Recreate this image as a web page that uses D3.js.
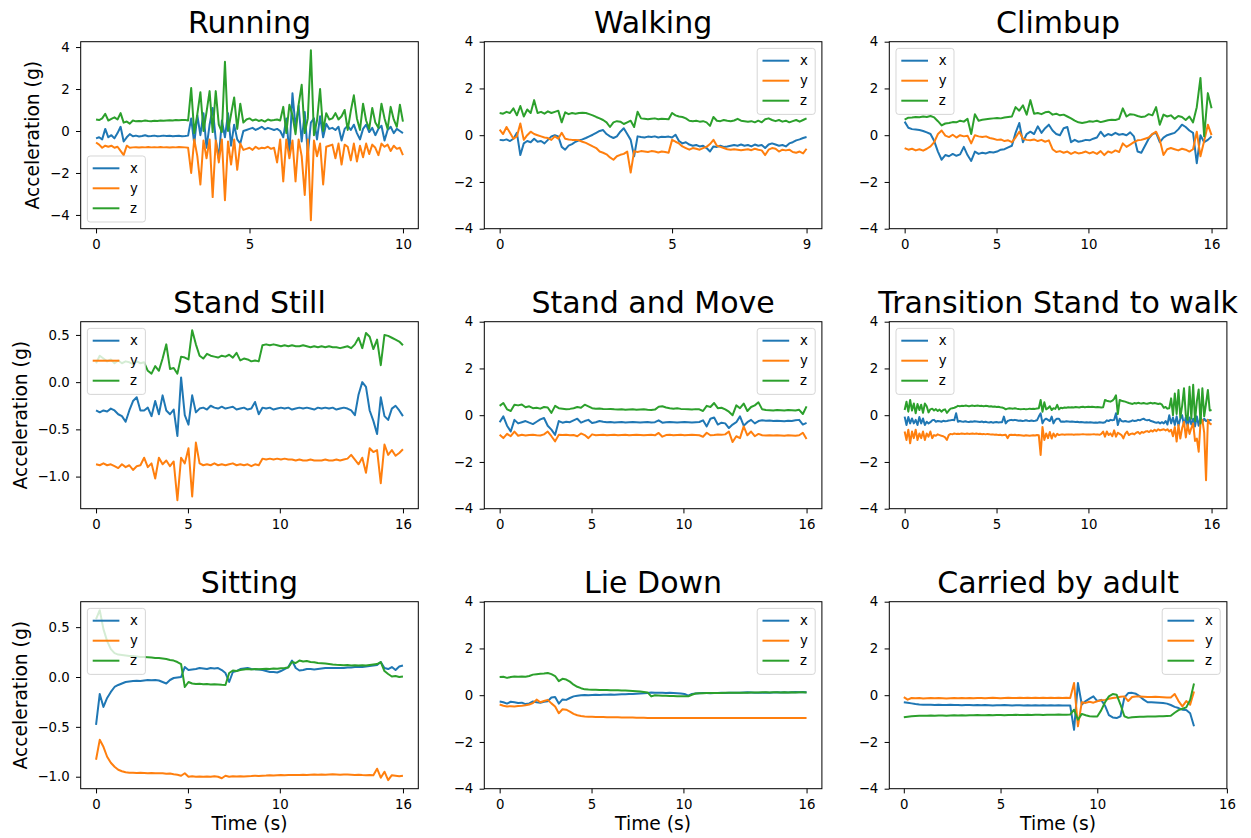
<!DOCTYPE html>
<html>
<head>
<meta charset="utf-8">
<script src="https://cdn.jsdelivr.net/npm/d3@7"></script>
<style>
  body { margin: 0; background: #fff; }
  svg { display: block; }
  text { font-family: "DejaVu Sans", sans-serif; }
</style>
</head>
<body>
<svg id="chart" width="1251" height="838"></svg>
<script>
// Tri-axial accelerometer recordings (g) for nine activities, uniformly sampled.

// ---- Running (10 s) ----
const runningX = [-0.35,-0.30,-0.40,0.10,-0.30,-0.20,-0.35,-0.10,0.20,-0.50,
 -0.30,-0.15,-0.25,-0.22,-0.26,-0.24,-0.20,-0.25,-0.24,-0.22,
 -0.25,-0.24,-0.22,-0.24,-0.23,-0.25,-0.24,-0.23,-0.25,-0.24,
 -0.22,0.60,-0.60,0.75,-0.20,0.85,-0.80,0.30,1.10,-0.40,
 -1.30,0.50,-0.30,0.85,-0.70,0.30,-0.40,-0.60,0.00,0.05,
 0.10,0.15,0.05,0.12,0.20,0.08,0.15,0.10,0.05,0.10,
 0.00,-0.30,0.60,-1.10,1.80,0.20,1.20,-0.50,0.90,-1.10,
 0.40,0.60,-0.40,0.70,-0.30,0.35,0.10,0.15,0.05,0.20,
 -0.45,0.10,0.25,0.05,0.30,-0.10,-0.40,0.10,0.30,-0.05,
 0.15,-0.20,0.10,0.25,-0.45,0.05,0.20,-0.10,0.10,0.00,
 -0.10];
const runningY = [-0.55,-0.65,-0.80,-0.70,-0.75,-0.70,-0.80,-0.75,-0.95,-1.15,
 -0.70,-0.80,-0.78,-0.77,-0.79,-0.77,-0.78,-0.76,-0.78,-0.77,
 -0.78,-0.76,-0.78,-0.77,-0.79,-0.77,-0.78,-0.76,-0.77,-0.78,
 -0.80,-2.00,-0.40,-1.20,-2.55,-0.45,-1.30,-0.40,-3.15,-0.45,
 -1.50,-0.40,-3.30,-0.50,-1.60,-0.40,-1.85,-0.60,-0.90,-0.85,
 -0.80,-0.90,-0.75,-0.85,-0.80,-0.82,-0.75,-0.85,-0.80,-1.50,
 -0.40,-2.40,-0.40,-1.30,-0.45,-2.40,-0.40,-1.20,-3.05,-0.40,
 -4.25,-0.45,-1.20,-0.60,-2.55,-0.75,-0.70,-0.65,-1.30,-0.60,
 -1.60,-0.65,-0.75,-1.40,-0.60,-1.45,-0.70,-1.25,-0.60,-1.10,
 -0.65,-0.80,-1.15,-0.60,-0.75,-0.65,-0.95,-0.70,-0.85,-0.80,
 -1.15];
const runningZ = [0.55,0.52,0.60,0.82,0.50,0.58,0.65,0.55,0.85,0.40,
 0.45,0.35,0.50,0.46,0.48,0.47,0.50,0.48,0.47,0.49,
 0.48,0.50,0.49,0.50,0.51,0.50,0.52,0.51,0.52,0.53,
 0.50,2.05,-0.10,0.80,1.85,0.00,0.90,1.90,-0.05,1.90,
 0.30,-0.05,3.30,0.00,0.80,1.60,0.10,1.30,0.40,0.55,
 0.60,0.50,0.55,0.48,0.52,0.45,0.55,0.50,0.52,0.55,
 0.50,1.15,-0.10,1.25,0.75,-0.15,1.25,2.20,-0.10,0.60,
 3.85,-0.20,0.50,2.00,0.00,0.85,0.55,0.60,0.85,0.55,
 0.70,1.00,0.05,0.95,1.70,0.60,0.05,1.30,0.50,0.10,
 1.10,0.40,0.15,1.30,0.60,0.10,1.15,0.55,0.20,1.25,
 0.45];

// ---- Walking (8.9 s) ----
const walkingX = [-0.20,-0.22,-0.18,-0.25,-0.15,0.10,-0.85,-0.35,-0.25,-0.30,
 -0.15,-0.28,-0.25,-0.35,-0.20,-0.05,0.00,-0.05,-0.50,-0.62,
 -0.45,-0.38,-0.28,-0.22,-0.18,-0.12,-0.05,0.02,0.10,0.18,
 0.22,0.05,-0.05,-0.12,-0.05,0.15,0.30,0.05,-0.20,-0.90,
 -0.05,-0.08,-0.10,-0.06,-0.08,-0.05,-0.10,-0.07,-0.08,-0.06,
 -0.10,0.02,-0.25,-0.35,-0.30,-0.40,-0.45,-0.42,-0.48,-0.45,
 -0.55,-0.70,-0.48,-0.50,-0.45,-0.50,-0.48,-0.45,-0.42,-0.45,
 -0.40,-0.45,-0.42,-0.48,-0.40,-0.45,-0.42,-0.55,-0.40,-0.35,
 -0.40,-0.45,-0.42,-0.48,-0.35,-0.30,-0.22,-0.18,-0.12,-0.08];
const walkingY = [0.24,0.05,0.35,0.10,-0.15,-0.05,0.50,-0.20,0.00,0.15,
 0.05,0.00,-0.05,-0.10,-0.12,-0.20,-0.05,-0.15,0.10,-0.15,
 -0.18,-0.20,-0.20,-0.22,-0.28,-0.33,-0.40,-0.48,-0.55,-0.70,
 -0.75,-0.82,-0.95,-1.05,-0.90,-0.84,-0.80,-0.70,-1.60,-0.68,
 -0.72,-0.68,-0.70,-0.72,-0.68,-0.70,-0.74,-0.70,-0.72,-0.75,
 -0.20,-0.28,-0.35,-0.48,-0.55,-0.62,-0.55,-0.58,-0.62,-0.55,
 -0.50,-0.38,-0.20,-0.45,-0.50,-0.55,-0.60,-0.62,-0.60,-0.62,
 -0.64,-0.62,-0.60,-0.64,-0.58,-0.62,-0.65,-0.85,-0.62,-0.55,
 -0.58,-0.70,-0.62,-0.65,-0.62,-0.72,-0.75,-0.70,-0.78,-0.58];
const walkingZ = [0.95,0.92,1.00,0.95,1.15,0.85,1.25,0.80,1.10,0.95,
 1.50,0.95,1.00,0.92,1.02,0.95,1.00,1.05,0.55,0.98,
 0.90,0.95,0.92,0.95,0.96,0.95,0.90,0.85,0.78,0.72,
 0.65,0.55,0.35,0.55,0.60,0.58,0.48,0.55,0.62,0.35,
 1.00,0.72,0.70,0.68,0.70,0.72,0.68,0.70,0.69,0.68,
 0.95,0.85,0.80,0.78,0.72,0.62,0.60,0.62,0.58,0.60,
 0.55,0.40,0.78,0.62,0.60,0.65,0.62,0.60,0.63,0.70,
 0.62,0.60,0.58,0.60,0.55,0.62,0.55,0.68,0.72,0.65,
 0.60,0.65,0.58,0.62,0.55,0.60,0.65,0.58,0.65,0.72];

// ---- Climbup (16.7 s) ----
const climbX = [0.58,0.32,0.26,0.24,0.22,0.18,0.12,0.05,-0.25,-0.70,
 -1.05,-0.85,-0.90,-0.80,-0.88,-0.82,-0.50,-0.85,-1.10,-0.70,
 -0.80,-0.75,-0.78,-0.72,-0.74,-0.70,-0.62,-0.60,-0.52,-0.45,
 0.10,0.52,-0.30,0.05,0.15,0.05,0.38,0.10,0.30,0.45,
 0.20,0.05,0.00,0.30,0.35,-0.30,-0.20,-0.28,-0.25,-0.20,
 -0.22,-0.15,-0.10,0.15,-0.05,0.05,0.00,0.10,0.02,0.05,
 0.00,0.12,-0.05,-0.70,-0.75,-0.45,-0.15,0.05,0.10,-0.30,
 -0.10,0.00,0.05,0.10,0.25,0.45,0.35,0.20,0.10,-1.20,
 0.00,-0.30,-0.20,-0.05];
const climbY = [-0.55,-0.62,-0.58,-0.65,-0.60,-0.66,-0.58,-0.48,-0.30,0.05,
 0.20,-0.02,-0.08,0.02,-0.10,0.00,-0.05,-0.02,-0.35,0.00,
 -0.05,-0.08,-0.05,-0.12,-0.15,-0.20,-0.18,-0.25,-0.22,-0.30,
 -0.10,0.15,-0.15,-0.20,-0.22,-0.18,-0.25,-0.20,-0.28,-0.22,
 -0.60,-0.72,-0.68,-0.75,-0.70,-0.80,-0.72,-0.78,-0.75,-0.70,
 -0.78,-0.72,-0.80,-0.68,-0.85,-0.70,-0.75,-0.65,-0.72,-0.35,
 -0.50,-0.40,-0.30,-0.22,-0.20,-0.15,-0.10,0.05,0.15,-0.20,
 -0.85,-0.60,-0.55,-0.60,-0.65,-0.58,-0.62,-0.70,-0.60,0.15,
 -0.90,-0.25,0.45,0.00];
const climbZ = [0.67,0.75,0.76,0.78,0.77,0.80,0.78,0.82,0.76,0.60,
 0.42,0.50,0.52,0.56,0.55,0.62,0.58,0.70,0.05,0.90,
 0.62,0.66,0.68,0.70,0.72,0.74,0.72,0.76,0.78,0.80,
 1.20,1.05,1.28,0.88,1.50,0.92,0.95,0.90,0.98,1.00,
 0.88,0.92,0.85,0.88,0.80,0.72,0.62,0.55,0.52,0.55,
 0.60,0.58,0.62,0.56,0.60,0.64,0.66,0.65,0.70,1.15,
 0.80,0.90,0.88,0.82,0.78,0.80,0.90,0.85,1.20,0.45,
 0.88,0.80,0.85,0.70,0.82,0.78,0.65,0.80,0.55,1.20,
 2.45,-0.05,1.80,1.15];

// ---- Stand Still (16.7 s) ----
const standX = [-0.30,-0.32,-0.30,-0.31,-0.28,-0.30,-0.34,-0.36,-0.42,-0.30,
 -0.20,-0.16,-0.30,-0.30,-0.27,-0.36,-0.20,-0.34,-0.14,-0.30,
 -0.34,-0.29,-0.57,0.05,-0.35,-0.45,-0.14,-0.32,-0.28,-0.27,
 -0.29,-0.25,-0.27,-0.28,-0.26,-0.28,-0.27,-0.26,-0.29,-0.28,
 -0.27,-0.29,-0.28,-0.21,-0.34,-0.27,-0.28,-0.27,-0.29,-0.28,
 -0.27,-0.28,-0.27,-0.29,-0.28,-0.27,-0.28,-0.27,-0.28,-0.29,
 -0.27,-0.28,-0.27,-0.28,-0.27,-0.29,-0.28,-0.27,-0.28,-0.30,
 -0.35,-0.13,0.00,-0.05,-0.30,-0.41,-0.55,-0.16,-0.36,-0.40,
 -0.28,-0.25,-0.30,-0.36];
const standY = [-0.87,-0.88,-0.86,-0.88,-0.87,-0.89,-0.91,-0.87,-0.90,-0.88,
 -0.93,-0.89,-0.88,-0.80,-0.90,-0.86,-1.02,-0.80,-0.87,-0.83,
 -0.89,-0.84,-1.25,-0.80,-0.86,-0.70,-1.21,-0.64,-0.86,-0.88,
 -0.87,-0.88,-0.86,-0.88,-0.87,-0.88,-0.87,-0.86,-0.88,-0.87,
 -0.88,-0.87,-0.89,-0.87,-0.88,-0.81,-0.82,-0.81,-0.82,-0.81,
 -0.82,-0.81,-0.82,-0.82,-0.83,-0.82,-0.83,-0.83,-0.82,-0.83,
 -0.83,-0.83,-0.82,-0.83,-0.83,-0.82,-0.83,-0.82,-0.81,-0.77,
 -0.82,-0.87,-0.80,-0.96,-0.70,-0.74,-0.72,-1.07,-0.66,-0.77,
 -0.72,-0.78,-0.75,-0.71];
const standZ = [0.20,0.28,0.25,0.22,0.24,0.20,0.23,0.20,0.22,0.21,
 0.19,0.22,0.20,0.21,0.12,0.09,0.17,0.12,0.25,0.40,
 0.14,0.15,0.09,0.27,0.26,0.24,0.55,0.40,0.28,0.25,
 0.30,0.28,0.27,0.26,0.28,0.27,0.29,0.26,0.31,0.23,
 0.25,0.24,0.22,0.23,0.22,0.39,0.40,0.39,0.40,0.39,
 0.38,0.39,0.38,0.39,0.38,0.38,0.39,0.38,0.37,0.38,
 0.37,0.38,0.37,0.38,0.37,0.37,0.36,0.37,0.38,0.36,
 0.40,0.47,0.36,0.52,0.48,0.35,0.45,0.18,0.50,0.49,
 0.47,0.45,0.43,0.39];

// ---- Stand and Move (16.7 s) ----
const moveX = [-0.30,-0.05,-0.45,-0.70,-0.20,-0.35,-0.30,-0.25,-0.32,-0.38,
 -0.28,-0.18,-0.12,-0.45,-0.62,-0.84,-0.25,-0.32,-0.28,-0.30,
 -0.22,-0.15,-0.32,-0.25,-0.20,-0.33,-0.30,-0.25,-0.28,-0.30,
 -0.29,-0.31,-0.30,-0.29,-0.31,-0.30,-0.29,-0.30,-0.31,-0.30,
 -0.29,-0.31,-0.30,-0.22,-0.32,-0.30,-0.29,-0.30,-0.31,-0.30,
 -0.29,-0.30,-0.31,-0.30,-0.29,-0.22,-0.48,-0.15,-0.10,-0.40,
 -0.32,-0.35,-0.55,-0.40,-0.30,-0.05,-0.45,-0.30,-0.20,-0.35,
 -0.25,-0.22,-0.24,-0.23,-0.25,-0.24,-0.25,-0.26,-0.24,-0.25,
 -0.22,-0.20,-0.40,-0.33];
const moveY = [-0.84,-0.98,-0.80,-0.90,-0.70,-0.88,-0.84,-0.87,-0.85,-0.84,
 -0.86,-0.87,-0.82,-0.70,-0.90,-1.12,-0.84,-0.85,-0.84,-0.86,
 -0.85,-0.90,-0.78,-0.85,-0.98,-0.82,-0.86,-0.85,-0.84,-0.86,
 -0.85,-0.84,-0.86,-0.85,-0.84,-0.86,-0.85,-0.84,-0.85,-0.86,
 -0.85,-0.84,-0.86,-0.76,-0.92,-0.85,-0.84,-0.86,-0.85,-0.84,
 -0.86,-0.85,-0.84,-0.85,-0.86,-0.92,-0.75,-0.86,-0.85,-0.83,
 -0.84,-0.82,-0.70,-1.15,-0.90,-0.98,-0.48,-0.86,-0.70,-0.90,
 -0.80,-0.86,-0.87,-0.86,-0.87,-0.86,-0.87,-0.88,-0.86,-0.87,
 -0.88,-0.86,-0.75,-1.02];
const moveZ = [0.40,0.52,0.25,0.18,0.45,0.42,0.46,0.34,0.38,0.30,
 0.32,0.28,0.35,0.33,0.10,0.40,0.30,0.28,0.25,0.27,
 0.30,0.35,0.32,0.45,0.38,0.30,0.28,0.29,0.27,0.26,
 0.27,0.25,0.24,0.25,0.23,0.24,0.25,0.23,0.24,0.25,
 0.23,0.22,0.24,0.36,0.38,0.33,0.30,0.28,0.30,0.27,
 0.26,0.25,0.24,0.26,0.25,0.18,0.40,0.35,0.52,0.30,
 0.32,0.25,0.15,0.00,0.42,0.30,0.50,0.18,0.35,0.42,
 0.55,0.25,0.22,0.21,0.20,0.22,0.21,0.20,0.22,0.21,
 0.20,0.23,0.05,0.38];

// ---- Transition Stand to walk (16.7 s, finer sampling) ----
const transX = [-0.06,-0.42,-0.08,-0.35,-0.14,-0.35,-0.20,-0.42,-0.08,-0.35,
 -0.14,-0.42,-0.28,-0.35,-0.30,-0.22,-0.20,-0.28,-0.25,-0.26,
 -0.28,-0.24,-0.26,-0.25,-0.23,-0.22,-0.20,-0.22,0.08,-0.28,
 -0.25,-0.27,-0.28,-0.26,-0.28,-0.29,-0.27,-0.28,-0.26,-0.27,
 -0.28,-0.29,-0.27,-0.30,-0.28,-0.30,-0.31,-0.29,-0.32,-0.30,
 -0.29,-0.31,-0.30,-0.30,-0.06,-0.35,-0.25,-0.22,-0.20,-0.22,
 -0.20,-0.22,-0.24,-0.23,-0.25,-0.24,-0.22,-0.24,-0.25,-0.23,
 -0.25,-0.24,-0.22,-0.06,0.08,-0.35,-0.20,-0.15,-0.20,-0.25,
 -0.06,-0.35,-0.20,-0.15,-0.15,-0.28,-0.27,-0.28,-0.26,-0.27,
 -0.28,-0.27,-0.28,-0.29,-0.28,-0.30,-0.29,-0.30,-0.31,-0.30,
 -0.31,-0.30,-0.31,-0.32,-0.31,-0.32,-0.30,-0.31,-0.32,-0.30,
 -0.22,-0.25,-0.20,-0.22,-0.20,0.08,-0.42,-0.15,-0.25,-0.27,
 -0.25,-0.27,-0.28,-0.26,-0.22,-0.25,-0.24,-0.20,-0.22,-0.18,
 -0.15,-0.20,-0.22,-0.20,-0.25,-0.27,-0.30,-0.32,-0.30,-0.35,
 -0.30,-0.35,-0.25,-0.40,0.00,-0.35,-0.10,-0.42,-0.05,-0.45,
 -0.15,0.00,-0.45,-0.08,-0.49,-0.10,-0.40,-0.15,-0.48,-0.05,
 -0.45,-0.10,-0.30,-0.15,-0.25,-0.20,-0.22,-0.20];
const transY = [-0.70,-1.06,-0.62,-1.20,-0.70,-0.98,-0.62,-1.06,-0.78,-0.98,
 -0.70,-1.06,-0.78,-0.92,-0.70,-0.98,-0.85,-0.88,-0.82,-0.85,
 -0.88,-0.90,-0.95,-1.06,-0.85,-0.80,-0.82,-0.78,-0.80,-0.79,
 -0.80,-0.78,-0.79,-0.80,-0.78,-0.80,-0.79,-0.78,-0.80,-0.78,
 -0.80,-0.79,-0.81,-0.80,-0.82,-0.80,-0.81,-0.83,-0.82,-0.84,
 -0.83,-0.85,-0.84,-0.86,-0.85,-0.84,-0.98,-0.85,-0.84,-0.85,
 -0.84,-0.86,-0.85,-0.86,-0.87,-0.88,-0.86,-0.87,-0.88,-0.87,
 -0.86,-0.87,-0.85,-0.86,-1.70,-0.50,-1.06,-0.78,-0.98,-0.72,
 -1.00,-0.78,-0.92,-0.80,-0.85,-0.83,-0.82,-0.84,-0.83,-0.82,
 -0.83,-0.82,-0.84,-0.83,-0.82,-0.83,-0.82,-0.81,-0.82,-0.83,
 -0.82,-0.83,-0.82,-0.81,-0.83,-0.82,-0.84,-0.80,-0.70,-0.92,
 -0.70,-0.85,-0.78,-0.90,-0.65,-0.92,-0.75,-0.80,-0.85,-0.99,
 -0.80,-0.70,-0.85,-0.80,-0.78,-0.82,-0.75,-0.72,-0.80,-0.72,
 -0.75,-0.70,-0.68,-0.72,-0.65,-0.70,-0.62,-0.68,-0.60,-0.65,
 -0.62,-0.60,-0.65,-0.60,-0.70,-0.62,-0.90,-0.50,-1.13,-0.42,
 -1.00,-0.55,-0.28,-0.95,-0.40,-0.80,-0.55,-0.35,-1.10,-1.00,
 -1.56,-0.30,-0.20,-0.75,-2.78,-0.20,-0.35,-0.40];
const transZ = [0.22,0.58,0.15,0.65,0.20,0.50,0.08,0.48,0.22,0.45,
 0.10,0.50,0.38,0.12,0.25,0.28,0.20,0.26,0.18,0.24,
 0.15,0.22,0.25,0.10,0.20,0.28,0.30,0.32,0.35,0.40,
 0.38,0.40,0.39,0.41,0.40,0.38,0.40,0.41,0.39,0.40,
 0.41,0.39,0.40,0.38,0.40,0.39,0.37,0.38,0.36,0.37,
 0.35,0.36,0.34,0.33,0.30,0.25,0.28,0.30,0.29,0.28,
 0.30,0.28,0.27,0.25,0.26,0.27,0.25,0.26,0.28,0.27,
 0.28,0.27,0.29,0.30,0.65,0.15,0.55,0.25,0.30,0.38,
 0.22,0.30,0.27,0.44,0.25,0.32,0.30,0.33,0.32,0.34,
 0.33,0.34,0.33,0.35,0.34,0.33,0.35,0.36,0.34,0.35,
 0.36,0.35,0.36,0.35,0.34,0.35,0.34,0.33,0.34,0.65,
 0.62,0.60,0.58,0.62,0.70,0.85,0.05,0.65,0.62,0.60,
 0.58,0.55,0.52,0.50,0.48,0.52,0.50,0.53,0.51,0.50,
 0.52,0.50,0.49,0.51,0.53,0.50,0.52,0.50,0.48,0.50,
 0.45,0.32,0.35,0.28,0.30,0.72,0.00,0.93,0.05,1.08,
 -0.10,0.40,1.15,0.00,-0.20,1.22,-0.15,1.30,-0.25,0.60,
 1.10,-0.35,1.15,-0.05,0.50,1.08,0.20,0.22];

// ---- Sitting (16.7 s) ----
const sitX = [-0.48,-0.17,-0.30,-0.21,-0.15,-0.10,-0.08,-0.065,-0.05,-0.045,
 -0.04,-0.038,-0.04,-0.035,-0.03,-0.032,-0.03,-0.035,-0.05,-0.065,
 -0.03,-0.01,-0.005,0.00,0.10,0.07,0.075,0.08,0.09,0.085,
 0.08,0.09,0.085,0.09,0.07,0.04,-0.05,0.05,0.06,0.08,
 0.085,0.09,0.08,0.078,0.075,0.07,0.06,0.05,0.05,0.045,
 0.06,0.08,0.10,0.165,0.09,0.065,0.07,0.08,0.08,0.075,
 0.08,0.085,0.09,0.09,0.09,0.09,0.09,0.09,0.095,0.095,
 0.10,0.10,0.10,0.105,0.11,0.115,0.12,0.15,0.09,0.08,
 0.10,0.07,0.105,0.115];
const sitY = [-0.83,-0.63,-0.70,-0.80,-0.86,-0.90,-0.93,-0.945,-0.955,-0.96,
 -0.96,-0.962,-0.96,-0.962,-0.965,-0.962,-0.965,-0.966,-0.965,-0.97,
 -0.968,-0.975,-0.98,-0.99,-0.965,-1.0,-0.995,-1.0,-0.998,-1.0,
 -0.998,-1.0,-0.995,-1.0,-1.015,-0.99,-1.0,-0.995,-0.998,-0.995,
 -0.997,-0.995,-0.993,-0.99,-0.992,-0.99,-0.988,-0.985,-0.987,-0.985,
 -0.984,-0.985,-0.983,-0.982,-0.984,-0.982,-0.98,-0.982,-0.98,-0.978,
 -0.98,-0.978,-0.98,-0.978,-0.976,-0.978,-0.98,-0.977,-0.978,-0.98,
 -0.982,-0.98,-0.983,-0.985,-0.982,-0.985,-0.92,-1.01,-0.95,-1.035,
 -0.985,-0.99,-0.995,-0.99];
const sitZ = [0.58,0.67,0.48,0.36,0.28,0.24,0.225,0.22,0.215,0.21,
 0.21,0.205,0.20,0.20,0.198,0.195,0.19,0.19,0.185,0.18,
 0.17,0.165,0.15,0.13,-0.10,-0.05,-0.065,-0.07,-0.068,-0.072,
 -0.07,-0.075,-0.072,-0.075,-0.078,-0.08,0.04,0.065,0.06,0.07,
 0.075,0.08,0.075,0.08,0.078,0.08,0.082,0.08,0.085,0.082,
 0.088,0.09,0.095,0.15,0.14,0.165,0.155,0.16,0.15,0.148,
 0.14,0.138,0.135,0.13,0.125,0.122,0.12,0.118,0.12,0.115,
 0.117,0.115,0.118,0.115,0.12,0.125,0.13,0.15,0.06,0.03,
 0.005,0.01,0.00,0.005];

// ---- Lie Down (16.7 s) ----
const lieX = [-0.27,-0.30,-0.36,-0.28,-0.30,-0.33,-0.32,-0.38,-0.35,-0.27,
 -0.30,-0.32,-0.28,-0.26,-0.10,-0.08,-0.36,-0.18,-0.20,-0.12,
 -0.05,-0.02,0.00,0.01,0.00,0.01,0.02,0.01,0.02,0.02,
 0.03,0.02,0.03,0.04,0.04,0.05,0.05,0.06,0.07,0.08,
 0.09,0.12,0.11,0.10,0.10,0.09,0.10,0.09,0.08,0.07,
 0.05,-0.02,0.05,0.07,0.08,0.09,0.09,0.08,0.09,0.09,
 0.10,0.09,0.10,0.10,0.10,0.11,0.12,0.13,0.12,0.11,
 0.10,0.11,0.12,0.11,0.12,0.13,0.12,0.13,0.12,0.13,
 0.14,0.13,0.14,0.13];
const lieY = [-0.40,-0.45,-0.48,-0.47,-0.48,-0.46,-0.45,-0.43,-0.40,-0.34,
 -0.19,-0.30,-0.25,-0.20,-0.35,-0.48,-0.77,-0.60,-0.62,-0.70,
 -0.80,-0.86,-0.89,-0.91,-0.92,-0.92,-0.93,-0.93,-0.935,-0.94,
 -0.94,-0.94,-0.945,-0.95,-0.95,-0.95,-0.955,-0.96,-0.965,-0.97,
 -0.975,-0.98,-0.98,-0.978,-0.98,-0.975,-0.98,-0.978,-0.98,-0.975,
 -0.978,-0.98,-0.975,-0.978,-0.98,-0.976,-0.978,-0.98,-0.975,-0.978,
 -0.976,-0.98,-0.975,-0.978,-0.976,-0.975,-0.978,-0.975,-0.976,-0.974,
 -0.976,-0.975,-0.974,-0.976,-0.975,-0.973,-0.975,-0.974,-0.972,-0.974,
 -0.973,-0.972,-0.974,-0.972];
const lieZ = [0.78,0.79,0.74,0.78,0.80,0.79,0.80,0.79,0.82,0.88,
 0.90,0.92,0.93,0.95,0.90,0.82,0.60,0.70,0.67,0.58,
 0.45,0.36,0.30,0.25,0.24,0.235,0.23,0.225,0.22,0.22,
 0.215,0.21,0.21,0.205,0.20,0.19,0.18,0.17,0.16,0.14,
 0.12,-0.05,0.00,-0.01,-0.02,-0.02,-0.03,-0.035,-0.04,-0.045,
 -0.05,-0.05,0.02,0.07,0.08,0.085,0.09,0.09,0.095,0.09,
 0.095,0.10,0.10,0.105,0.10,0.105,0.11,0.11,0.12,0.118,
 0.12,0.125,0.13,0.12,0.125,0.13,0.12,0.125,0.12,0.128,
 0.12,0.125,0.122,0.12];

// ---- Carried by adult (15 s) ----
const carryX = [-0.30,-0.32,-0.35,-0.38,-0.40,-0.41,-0.41,-0.41,-0.42,-0.41,
 -0.42,-0.42,-0.41,-0.42,-0.42,-0.43,-0.42,-0.42,-0.43,-0.42,
 -0.43,-0.42,-0.43,-0.44,-0.43,-0.43,-0.42,-0.43,-0.44,-0.43,
 -0.43,-0.44,-0.43,-0.44,-0.43,-0.44,-0.43,-0.44,-0.43,-0.44,
 -0.43,-0.44,-0.44,-0.44,-1.48,0.52,-0.40,-0.25,-0.15,-0.05,
 -0.25,-0.20,-0.45,-0.85,-0.95,-0.98,-0.90,-0.10,0.09,0.10,
 0.06,-0.05,-0.19,-0.30,-0.30,-0.31,-0.32,-0.33,-0.36,-0.42,
 -0.50,-0.55,-0.62,-0.63,-0.77,-1.33];
const carryY = [-0.08,-0.19,-0.12,-0.13,-0.12,-0.14,-0.13,-0.12,-0.13,-0.12,
 -0.13,-0.14,-0.13,-0.12,-0.13,-0.12,-0.13,-0.12,-0.13,-0.12,
 -0.12,-0.13,-0.12,-0.11,-0.12,-0.13,-0.12,-0.11,-0.12,-0.12,
 -0.11,-0.12,-0.11,-0.12,-0.11,-0.12,-0.11,-0.12,-0.11,-0.12,
 -0.11,-0.12,-0.11,-0.12,0.52,-1.33,-0.30,-0.33,-0.28,-0.32,
 -0.26,-0.22,-0.20,-0.15,-0.12,-0.10,-0.07,-0.05,-0.25,-0.08,
 -0.06,-0.06,-0.07,-0.08,-0.08,-0.07,-0.08,-0.09,-0.10,-0.10,
 0.05,-0.25,-0.48,-0.25,-0.41,0.16];
const carryZ = [-0.94,-0.92,-0.90,-0.89,-0.88,-0.88,-0.88,-0.87,-0.88,-0.87,
 -0.87,-0.88,-0.87,-0.86,-0.87,-0.86,-0.87,-0.86,-0.86,-0.85,
 -0.86,-0.86,-0.85,-0.86,-0.85,-0.85,-0.86,-0.85,-0.85,-0.84,
 -0.85,-0.85,-0.84,-0.85,-0.84,-0.84,-0.85,-0.84,-0.84,-0.84,
 -0.83,-0.84,-0.84,-0.83,-0.62,-1.05,-0.80,-0.86,-0.90,-0.91,
 -0.91,-0.65,-0.30,-0.05,0.05,0.02,-0.40,-0.90,-0.97,-0.94,
 -0.93,-0.92,-0.92,-0.91,-0.91,-0.91,-0.90,-0.90,-0.89,-0.88,
 -0.75,-0.64,-0.58,-0.52,-0.20,0.50];

// Recording lengths (s) and time-axis ticks
const durations = [10, 8.9, 16.7, 16.7, 16.7, 16.7, 16.7, 16.7, 15];
const ticks10 = [0, 5, 10],       labels10 = ["0", "5", "10"];
const ticks9  = [0, 5, 8.9],      labels9  = ["0", "5", "9"];
const ticks16 = [0, 5, 10, 16.7], labels16 = ["0", "5", "10", "16"];
const yTicksWide = [-4, -2, 0, 2, 4];
const yTicksFine = [-1.0, -0.5, 0.0, 0.5];

const titles = ["Running", "Walking", "Climbup", "Stand Still", "Stand and Move",
  "Transition Stand to walk", "Sitting", "Lie Down", "Carried by adult"];
const axisNames = ["x", "y", "z"];
const colors = ["#1f77b4", "#ff7f0e", "#2ca02c"];

const panels = [
  { series: [runningX, runningY, runningZ], ticks: ticks10, labels: labels10, yTicks: yTicksWide, yFmt: "d", fixed: false, legend: "lower left" },
  { series: [walkingX, walkingY, walkingZ], ticks: ticks9, labels: labels9, yTicks: yTicksWide, yFmt: "d", fixed: true, legend: "upper right" },
  { series: [climbX, climbY, climbZ], ticks: ticks16, labels: labels16, yTicks: yTicksWide, yFmt: "d", fixed: true, legend: "upper left" },
  { series: [standX, standY, standZ], ticks: ticks16, labels: labels16, yTicks: yTicksFine, yFmt: ".1f", fixed: false, legend: "upper left" },
  { series: [moveX, moveY, moveZ], ticks: ticks16, labels: labels16, yTicks: yTicksWide, yFmt: "d", fixed: true, legend: "upper right" },
  { series: [transX, transY, transZ], ticks: ticks16, labels: labels16, yTicks: yTicksWide, yFmt: "d", fixed: true, legend: "upper left" },
  { series: [sitX, sitY, sitZ], ticks: ticks16, labels: labels16, yTicks: yTicksFine, yFmt: ".1f", fixed: false, legend: "upper left" },
  { series: [lieX, lieY, lieZ], ticks: ticks16, labels: labels16, yTicks: yTicksWide, yFmt: "d", fixed: true, legend: "upper right" },
  { series: [carryX, carryY, carryZ], ticks: ticks16, labels: labels16, yTicks: yTicksWide, yFmt: "d", fixed: true, legend: "upper right" }
];

// ---- layout ----
const svg = d3.select("#chart");
const colLeft = [80.7, 484.3, 889.3];
const rowTop = [41.7, 321.7, 601.7];
const W = 337.6, H = 187;
const tickFont = 13.3, labelFont = 18.7, titleFont = 30, legendFont = 13.3;

panels.forEach((p, k) => {
  const col = k % 3, row = Math.floor(k / 3);
  const g = svg.append("g").attr("transform", `translate(${colLeft[col]},${rowTop[row]})`);
  const dur = durations[k];
  const n = p.series[0].length;
  const dt = dur / (n - 1);

  // x: 5% margins around the record, widened to include every tick
  const x0 = -0.05 * dur;
  const x1 = Math.max(dur * 1.05, d3.max(p.ticks));
  const x = d3.scaleLinear().domain([x0, x1]).range([0, W]);

  let yDom;
  if (p.fixed) yDom = [-4, 4];
  else {
    const all = p.series.flat();
    const lo = d3.min(all), hi = d3.max(all), pad = 0.05 * (hi - lo);
    yDom = [lo - pad, hi + pad];
  }
  const y = d3.scaleLinear().domain(yDom).range([H, 0]);

  const clipId = "clip" + k;
  g.append("clipPath").attr("id", clipId).append("rect").attr("width", W).attr("height", H);

  const line = d3.line().x((d, i) => x(i * dt)).y(d => y(d));
  const plot = g.append("g").attr("clip-path", `url(#${clipId})`);
  p.series.forEach((s, j) => {
    plot.append("path").datum(s).attr("d", line)
      .attr("fill", "none").attr("stroke", colors[j])
      .attr("stroke-width", 2).attr("stroke-linejoin", "round");
  });

  // axes
  const fmt = d3.format(p.yFmt);
  const yAxis = g.append("g").call(
    d3.axisLeft(y).tickValues(p.yTicks).tickFormat(fmt).tickSize(4.7).tickPadding(6.3).tickSizeOuter(0));
  const xAxis = g.append("g").attr("transform", `translate(0,${H})`).call(
    d3.axisBottom(x).tickValues(p.ticks).tickFormat(d => p.labels[p.ticks.indexOf(d)])
      .tickSize(4.7).tickPadding(6.5).tickSizeOuter(0));
  [yAxis, xAxis].forEach(a => {
    a.select(".domain").remove();
    a.attr("font-family", "DejaVu Sans").attr("font-size", tickFont);
    a.selectAll(".tick line").attr("stroke", "#000").attr("stroke-width", 1);
    a.selectAll(".tick text").attr("fill", "#000");
  });

  // frame
  g.append("rect").attr("width", W).attr("height", H)
    .attr("fill", "none").attr("stroke", "#000").attr("stroke-width", 1);

  // title
  g.append("text").attr("x", W / 2).attr("y", -8.5).attr("text-anchor", "middle")
    .attr("font-size", titleFont).attr("fill", "#000").text(titles[k]);

  // axis labels
  if (col === 0) {
    let minX = 0;
    yAxis.selectAll(".tick text").each(function () {
      minX = Math.min(minX, this.getBBox().x);
    });
    const lx = minX - 10.8;
    g.append("text").attr("transform", `translate(${lx},${H / 2}) rotate(-90)`)
      .attr("text-anchor", "middle").attr("font-size", labelFont).attr("fill", "#000")
      .text("Acceleration (g)");
  }
  if (row === 2) {
    g.append("text").attr("x", W / 2).attr("y", H + 41.8).attr("text-anchor", "middle")
      .attr("font-size", labelFont).attr("fill", "#000").text("Time (s)");
  }

  // legend
  const lw = 58, lh = 66, inset = 6.7;
  const lx = p.legend.includes("left") ? inset : W - inset - lw;
  const ly = p.legend.includes("upper") ? inset : H - inset - lh;
  const lg = g.append("g").attr("transform", `translate(${lx},${ly})`);
  lg.append("rect").attr("width", lw).attr("height", lh).attr("rx", 2.7)
    .attr("fill", "#fff").attr("fill-opacity", 0.8)
    .attr("stroke", "#ccc").attr("stroke-opacity", 0.8).attr("stroke-width", 1);
  axisNames.forEach((nm, j) => {
    const cy = 12.3 + 20 * j;
    lg.append("line").attr("x1", 5.3).attr("x2", 32).attr("y1", cy).attr("y2", cy)
      .attr("stroke", colors[j]).attr("stroke-width", 2);
    lg.append("text").attr("x", 42.7).attr("y", cy + 4.3)
      .attr("font-size", legendFont).attr("fill", "#000").text(nm);
  });
});
</script>
</body>
</html>
